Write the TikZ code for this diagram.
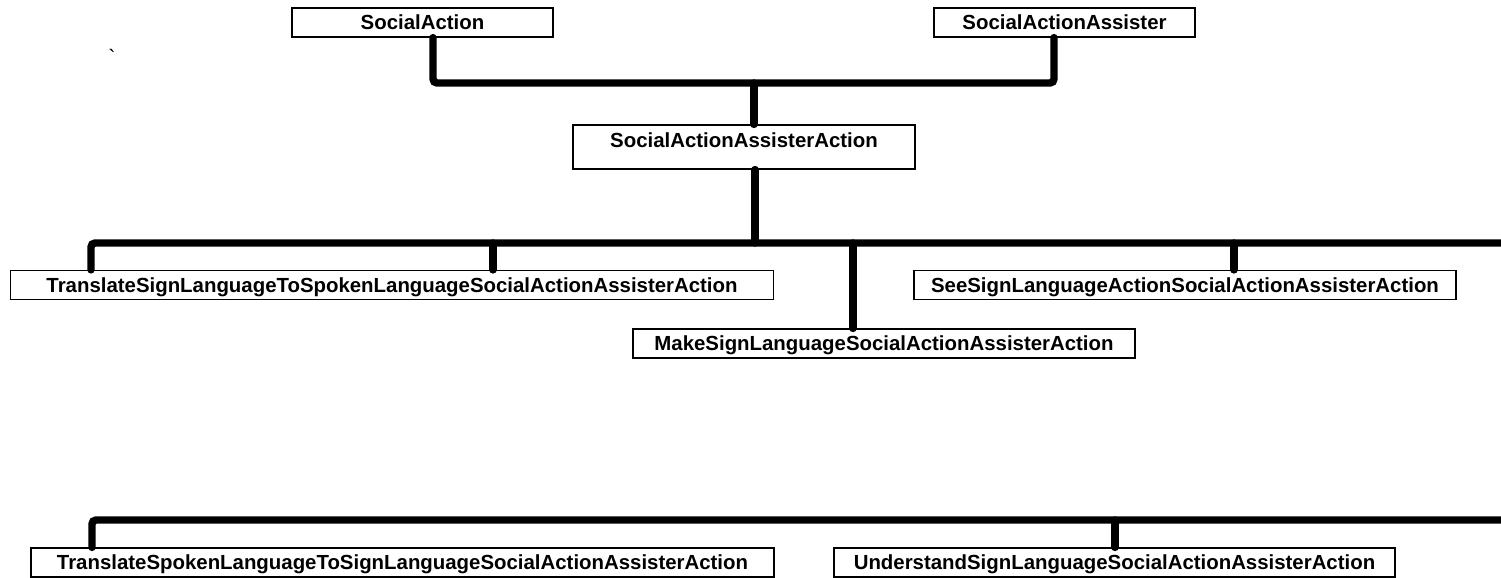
\documentclass[tikz,border=0pt]{standalone}
\usepackage{fontspec}
\setmainfont{Liberation Sans}
\usepackage{xcolor}
\usepackage{tikz}

\begin{document}
\begin{tikzpicture}[x=0.5pt, y=-0.5pt,
  cls/.style={draw, rectangle, line width=0.6pt, inner sep=0pt,
    font=\fontsize{10.2}{12}\selectfont\bfseries,
    text height=10.9pt, text depth=3.6pt},
  bar/.style={line width=3.7pt, line cap=round, rounded corners=2pt}]
\useasboundingbox (0,0) rectangle (1501,578);
\node[cls, minimum width=130.5pt] (sa) at (422.5,22.5) {SocialAction};
\node[cls, minimum width=130.5pt] (saa) at (1064.5,22.5) {SocialActionAssister};
\node[cls, minimum width=171pt, text height=11.1pt, text depth=10.9pt] (saaa) at (744,147) {SocialActionAssisterAction};
\node[cls, minimum width=381.75pt] (tsl) at (392,285) {TranslateSignLanguageToSpokenLanguageSocialActionAssisterAction};
\node[cls, minimum width=251pt] (msl) at (884,343.5) {MakeSignLanguageSocialActionAssisterAction};
\node[cls, minimum width=271pt] (ssl) at (1185,285) {SeeSignLanguageActionSocialActionAssisterAction};
\node[cls, minimum width=371.5pt] (tspk) at (402.5,562.5) {TranslateSpokenLanguageToSignLanguageSocialActionAssisterAction};
\node[cls, minimum width=280.5pt] (usl) at (1114.5,562.5) {UnderstandSignLanguageSocialActionAssisterAction};
\node[font=\fontsize{11}{12}\selectfont] (tick) at (112,57) {\textasciigrave};
% top bar
\coordinate (c1a) at (433,83);
\coordinate (c1b) at (1054,83);
\coordinate (j1) at (754,83);
\draw[bar] (c1a |- sa.south) -- (c1a) -- (c1b) -- (c1b |- saa.south);
\draw[bar] (j1) -- (j1 |- saaa.north);
% middle bar
\coordinate (j2) at (755,243);
\coordinate (c2a) at (91,243);
\coordinate (c2b) at (493,243);
\coordinate (c2c) at (853,243);
\coordinate (c2d) at (1234,243);
\coordinate (c2e) at (1510,243);
\draw[bar] (j2 |- saaa.south) -- (j2);
\draw[bar] (c2a |- tsl.north) -- (c2a) -- (c2e);
\draw[bar] (c2b) -- (c2b |- tsl.north);
\draw[bar] (c2c) -- (c2c |- msl.north);
\draw[bar] (c2d) -- (c2d |- ssl.north);
% bottom bar
\coordinate (c3a) at (92,520);
\coordinate (c3b) at (1115,520);
\coordinate (c3e) at (1510,520);
\draw[bar] (c3a |- tspk.north) -- (c3a) -- (c3e);
\draw[bar] (c3b) -- (c3b |- usl.north);
\end{tikzpicture}
\end{document}
